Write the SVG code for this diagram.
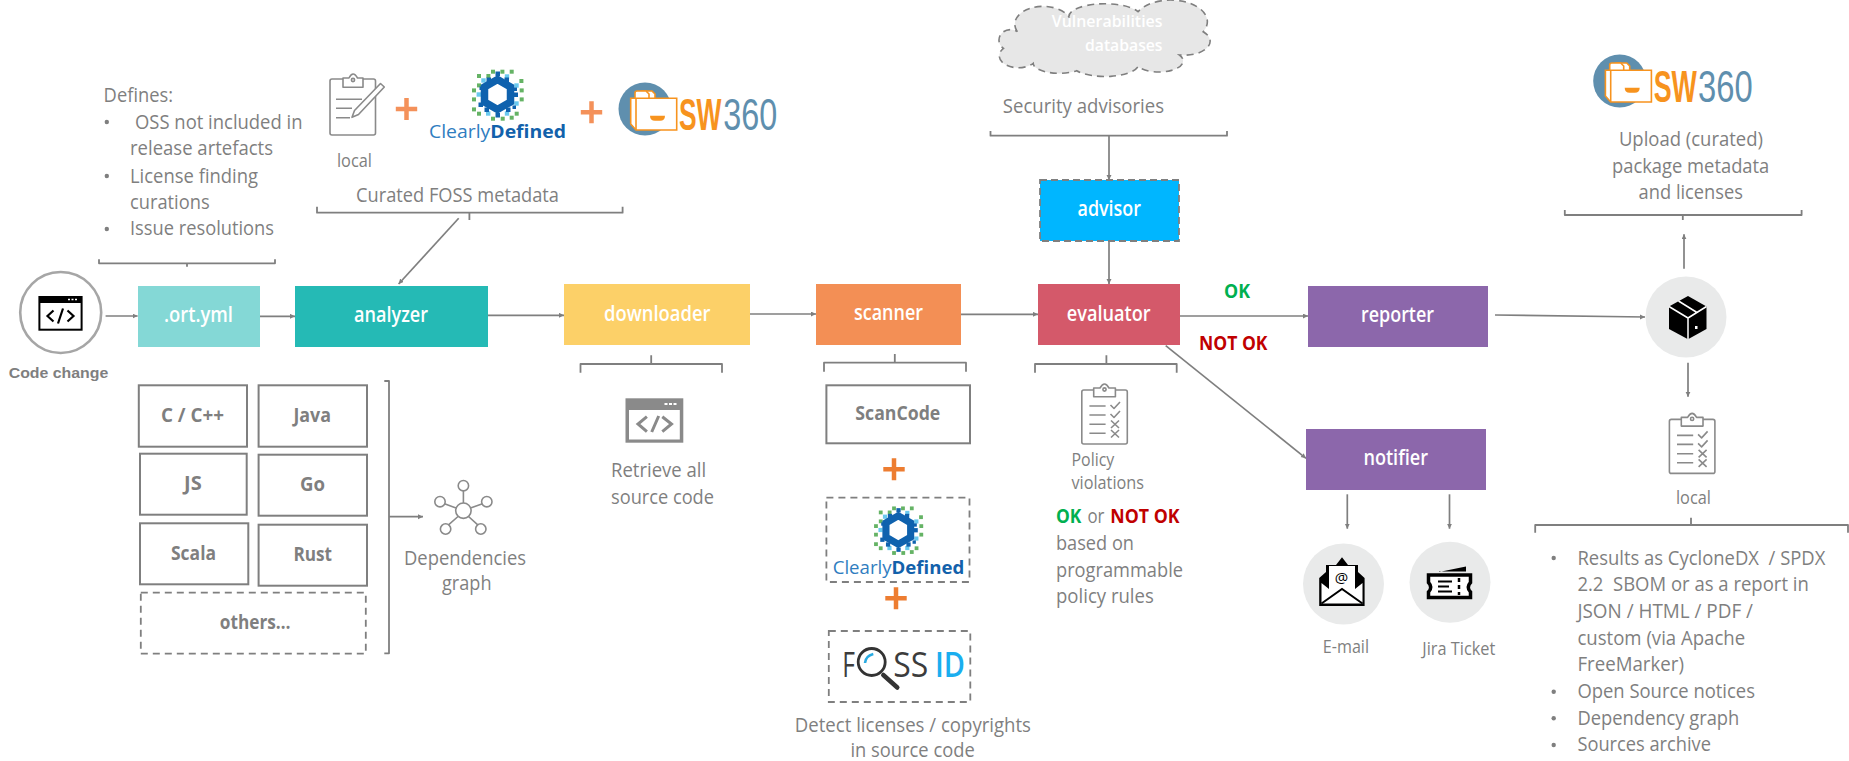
<svg xmlns="http://www.w3.org/2000/svg" width="1849" height="761" viewBox="0 0 1849 761">
<style>
text{font-family:"Open Sans","Noto Sans","Liberation Sans",sans-serif;}
.t{font-size:19.5px;fill:#7f7f7f;}
.s{font-size:17.5px;fill:#7f7f7f;}
.n{font-size:21.5px;font-weight:600;fill:#fff;}
.l{font-size:19.5px;font-weight:700;fill:#7f7f7f;}
.ok{font-size:19.5px;font-weight:700;fill:#00b050;}
.nok{font-size:19.5px;font-weight:700;fill:#c00000;}
.a{fill:none;stroke:#7f7f7f;stroke-width:1.7;marker-end:url(#arr);}
.b{fill:none;stroke:#7f7f7f;stroke-width:1.8;stroke-linejoin:round;}
.box{fill:#fff;stroke:#7f7f7f;stroke-width:2;}
.dash{fill:#fff;stroke:#7f7f7f;stroke-width:1.8;stroke-dasharray:7 5;}
.plus{stroke-width:4.5;fill:none;}
.ico{fill:none;stroke:#8a8a8a;stroke-width:1.6;stroke-linejoin:round;}
.circ{fill:#e9eaea;}
.cg{fill:#65b365;}.clb{fill:#6ac9ee;}.cdb{fill:#0f62ae;}
.clearly{font-size:17.5px;fill:#2f7dbf;}
.defined{font-size:17.5px;font-weight:700;fill:#1261ab;}
.sw{font-family:"Liberation Sans",sans-serif;font-size:44px;font-weight:700;fill:#f7931e;}
.n360{font-family:"Liberation Sans",sans-serif;font-size:44px;font-weight:400;fill:#5f8fae;}
.foss{font-size:34px;fill:#3c3c3c;}
.dot{fill:#7f7f7f;}
</style>
<defs>
<marker id="arr" markerUnits="userSpaceOnUse" markerWidth="6" markerHeight="6" refX="5" refY="2.5" orient="auto"><path d="M0 0L5 2.500L0 5Z" fill="#7f7f7f"/></marker>
<g id="cd-mark">
<g class="cg">
<rect x="-20.5" y="-20.5" width="4" height="4"/><rect x="-6.5" y="-24.8" width="4" height="4"/><rect x="2.9" y="-24.8" width="4" height="4"/><rect x="12.2" y="-24.8" width="4" height="4"/><rect x="21.9" y="-15.5" width="4" height="4"/><rect x="22.2" y="-6.1" width="4" height="4"/><rect x="22.2" y="2.9" width="4" height="4"/><rect x="17.2" y="17.2" width="4" height="4"/><rect x="3.2" y="22.2" width="4" height="4"/><rect x="-6.5" y="22.2" width="4" height="4"/><rect x="-20.5" y="17.2" width="4" height="4"/><rect x="-25.5" y="12.9" width="4" height="4"/><rect x="-25.5" y="2.9" width="4" height="4"/><rect x="-25.5" y="-6.1" width="4" height="4"/><rect x="-20.5" y="-11.1" width="4" height="4"/><rect x="-11.1" y="-20.5" width="4" height="4"/><rect x="12.2" y="21.2" width="4" height="4"/>
</g>
<g class="clb">
<rect x="-16.2" y="-16.2" width="4.4" height="4.4"/><rect x="7.3" y="-20.2" width="4.4" height="4.4"/><rect x="16.8" y="-11.2" width="4.4" height="4.4"/><rect x="-20.9" y="-2.2" width="4.4" height="4.4"/><rect x="-11.5" y="16.8" width="4.4" height="4.4"/><rect x="7.3" y="16.8" width="4.4" height="4.4"/><rect x="16.8" y="6.8" width="4.4" height="4.4"/>
</g>
<path d="M0-15L13-7.500V7.500L0 15L-13 7.500V-7.500Z" fill="#fff" stroke="#0f62ae" stroke-width="7.5"/>
<g class="cdb">
<rect x="-2" y="-23" width="4.5" height="4.5"/><rect x="-2" y="18.500" width="4.5" height="4.5"/><rect x="-13" y="13" width="4.5" height="4.5"/><rect x="8.500" y="13" width="4.5" height="4.5"/><rect x="-11" y="-17" width="4.5" height="4.5"/><rect x="7" y="-17" width="4.5" height="4.5"/><rect x="16" y="-2" width="4.5" height="4.5"/><rect x="-19" y="8" width="4.5" height="4.5"/><rect x="16" y="-7" width="3.5" height="3.5"/><rect x="-18" y="-8" width="3.5" height="3.5"/><rect x="15" y="11" width="3.5" height="3.5"/>
</g>
</g>
<g id="sw-mark">
<circle cx="645" cy="109" r="26.5" fill="#5f8fae"/>
<path d="M640 98V93Q640 91 642 91H652L655 94V98" fill="#fff" stroke="#f7931e" stroke-width="1.6"/>
<path d="M635 98V93Q635 91 637 91H646L649 94V98" fill="#fff" stroke="#f7931e" stroke-width="1.6"/>
<path d="M630.7 98.3V124L636 130H676.7V98.3Z" fill="#fff" stroke="#f7931e" stroke-width="1.6"/>
<path d="M636 98.3V130" fill="none" stroke="#f7931e" stroke-width="1.6"/>
<path d="M650 115.7H665Q665 120.7 660 120.7H655Q650 120.7 650 115.7Z" fill="#f7931e"/>
</g>
<g id="policy-icon" class="ico">
<rect x="1081.8" y="390" width="45.5" height="54" rx="2"/>
<path d="M1093.7 396.7V388H1100Q1104.5 380 1109 388H1115.4V396.7Z" fill="#fff"/>
<circle cx="1104.5" cy="389.5" r="1.6"/>
<path d="M1089.4 406H1105.6M1089.4 415H1105.6M1089.4 424.3H1105.6M1089.4 433.3H1105.6"/>
<path d="M1110.5 405L1114 408.5L1120 402M1110.5 414L1114 417.5L1120 411M1111 420.5L1119 428M1119 420.5L1111 428M1111 430L1119 437.5M1119 430L1111 437.5"/>
</g>
</defs>

<g id="connectors">
<path class="a" d="M105.6 316H137.6"/>
<path class="a" d="M260 316.3H295"/>
<path class="a" d="M488 315.3H564"/>
<path class="a" d="M750 314H816"/>
<path class="a" d="M961 314.3H1038"/>
<path class="a" d="M1109 135.7V180"/>
<path class="a" d="M1109 241V284"/>
<path class="a" d="M1180 316H1308"/>
<path class="a" d="M1165.7 345.7L1306 458.3"/>
<path class="a" d="M1495 315L1645 317"/>
<path class="a" d="M1684 268.7V234.3"/>
<path class="a" d="M1688 362.7V396.7"/>
<path class="a" d="M1347.3 494.3V528.7"/>
<path class="a" d="M1449.5 494.3V528.7"/>
<path class="a" d="M458.7 218.3L398.6 284"/>
<path class="a" d="M389 516.7H423"/>
</g>

<g id="brackets">
<path class="b" d="M99 259.3V263.3H275V259.3M187 263.3V266.7"/>
<path class="b" d="M317 206.7V212.7H622.6V206.7M469.4 212.7V220"/>
<path class="b" d="M990.5 131V135.7H1227V131"/>
<path class="b" d="M580.5 372.7V364H722V372.7M651.2 364V355.3"/>
<path class="b" d="M824 371.7V362.7H966V371.7M894.8 362.7V354"/>
<path class="b" d="M1035 372.7V364H1176.7V372.7M1106.4 364V355.3"/>
<path class="b" d="M1564.8 210V215H1801.6V210M1682.8 215V220"/>
<path class="b" d="M1535.2 532.7V525H1848V532.7M1691 525V517.7"/>
<path class="b" d="M384.3 381H389V653.3H384.3"/>
</g>

<g id="code-change">
<circle cx="60.7" cy="312.5" r="40.5" fill="#fff" stroke="#a6a6a6" stroke-width="2.6"/>
<rect x="38.4" y="296" width="44.2" height="34.7" fill="#000"/>
<rect x="40.4" y="303" width="40.2" height="25.7" fill="#fff"/>
<path d="M68 299.5H70M71.5 299.5H73.5M75 299.5H77" stroke="#fff" stroke-width="1.6" fill="none"/>
<path d="M53.5 310.5L47.5 316L53.5 321.5M67.5 310.5L73.5 316L67.5 321.5M63 308.5L58 323.5" fill="none" stroke="#000" stroke-width="2.2"/>
<text x="8.7" y="377.7" textLength="99.6" lengthAdjust="spacingAndGlyphs" style="font-family:'Liberation Sans',sans-serif;font-size:15px;font-weight:700;fill:#7f7f7f">Code change</text>
</g>

<g id="defines">
<text class="t" x="103.6" y="102" textLength="69.4" lengthAdjust="spacingAndGlyphs">Defines:</text>
<circle class="dot" cx="106.8" cy="122" r="2.2"/>
<text class="t" x="135" y="129.3" textLength="167.5" lengthAdjust="spacingAndGlyphs">OSS not included in</text>
<text class="t" x="130" y="155.3" textLength="143" lengthAdjust="spacingAndGlyphs">release artefacts</text>
<circle class="dot" cx="106.8" cy="176" r="2.2"/>
<text class="t" x="130" y="182.7" textLength="128" lengthAdjust="spacingAndGlyphs">License finding</text>
<text class="t" x="130" y="209.3" textLength="79.6" lengthAdjust="spacingAndGlyphs">curations</text>
<circle class="dot" cx="106.8" cy="229" r="2.2"/>
<text class="t" x="130" y="235.3" textLength="144" lengthAdjust="spacingAndGlyphs">Issue resolutions</text>
</g>

<g id="ort-yml"><rect x="138" y="286" width="122" height="61" fill="#84d8d6"/><text class="n" x="164" y="321.7" textLength="69" lengthAdjust="spacingAndGlyphs">.ort.yml</text></g>
<g id="analyzer"><rect x="295" y="286" width="193" height="61" fill="#25bab5"/><text class="n" x="354" y="321.7" textLength="74" lengthAdjust="spacingAndGlyphs">analyzer</text></g>
<g id="downloader"><rect x="564" y="284" width="186" height="61" fill="#fcd068"/><text class="n" x="604" y="321" textLength="106.5" lengthAdjust="spacingAndGlyphs">downloader</text></g>
<g id="scanner"><rect x="816" y="284" width="145" height="61" fill="#f38f55"/><text class="n" x="854" y="320" textLength="69" lengthAdjust="spacingAndGlyphs">scanner</text></g>
<g id="evaluator"><rect x="1038" y="284" width="142" height="61" fill="#d4596a"/><text class="n" x="1066.8" y="321" textLength="83.8" lengthAdjust="spacingAndGlyphs">evaluator</text></g>
<g id="advisor"><rect x="1040" y="180" width="139" height="61" fill="#00b6ff" stroke="#7f7f7f" stroke-width="1.8" stroke-dasharray="7 4"/><text class="n" x="1077.5" y="216" textLength="63.5" lengthAdjust="spacingAndGlyphs">advisor</text></g>
<g id="reporter"><rect x="1308" y="286" width="180" height="61" fill="#8c67ab"/><text class="n" x="1361" y="321.7" textLength="73" lengthAdjust="spacingAndGlyphs">reporter</text></g>
<g id="notifier"><rect x="1306" y="429" width="180" height="61" fill="#8c67ab"/><text class="n" x="1363.4" y="465" textLength="64.6" lengthAdjust="spacingAndGlyphs">notifier</text></g>

<g id="curated-sources">
<g id="local-clipboard" class="ico">
<rect x="330" y="79" width="45.5" height="56" rx="2"/>
<path d="M343 87.3V78H349Q353 70 357.5 78H363V87.3Z" fill="#fff"/>
<circle cx="353" cy="80" r="1.6"/>
<path d="M336 99.3H362M336 108.3H352M336 117.7H350"/>
<path d="M380.5 83.5L384.3 87L358.5 114.5L352 117.3L354.5 110.5Z" fill="#fff"/>
</g>
<text class="s" x="337" y="166.7" textLength="35" lengthAdjust="spacingAndGlyphs">local</text>
<path class="plus" d="M406.5 98V120M395.8 109H417.2" stroke="#f4915a"/>
<use href="#cd-mark" transform="translate(497.5,94.5)"/>
<text x="429" y="138.3" textLength="137" lengthAdjust="spacingAndGlyphs"><tspan class="clearly">Clearly</tspan><tspan class="defined">Defined</tspan></text>
<path class="plus" d="M591.5 101.3V123.3M580.8 112.3H602.2" stroke="#f4915a"/>
<use href="#sw-mark"/>
<text class="sw" transform="matrix(.6 0 0 1 679 130)">SW</text>
<text class="n360" transform="matrix(.735 0 0 1 723.3 130)">360</text>
<text class="t" x="356" y="201.7" textLength="203" lengthAdjust="spacingAndGlyphs">Curated FOSS metadata</text>
</g>

<g id="languages">
<g id="lang-c"><rect class="box" x="138.8" y="385.3" width="108.2" height="61.4"/><text class="l" x="161" y="421.7" textLength="63" lengthAdjust="spacingAndGlyphs">C / C++</text></g>
<g id="lang-java"><rect class="box" x="258.6" y="385.3" width="108.4" height="61.4"/><text class="l" x="293.4" y="421.7" textLength="37.6" lengthAdjust="spacingAndGlyphs">Java</text></g>
<g id="lang-js"><rect class="box" x="140" y="453.7" width="106.7" height="61"/><text class="l" x="184" y="490" textLength="17.7" lengthAdjust="spacingAndGlyphs">JS</text></g>
<g id="lang-go"><rect class="box" x="258.6" y="454.7" width="108.4" height="61"/><text class="l" x="300" y="491" textLength="25" lengthAdjust="spacingAndGlyphs">Go</text></g>
<g id="lang-scala"><rect class="box" x="140" y="523.3" width="108.3" height="61"/><text class="l" x="171" y="560" textLength="45" lengthAdjust="spacingAndGlyphs">Scala</text></g>
<g id="lang-rust"><rect class="box" x="258.6" y="524.7" width="108.4" height="61"/><text class="l" x="293.4" y="561.3" textLength="38.6" lengthAdjust="spacingAndGlyphs">Rust</text></g>
<g id="lang-others"><rect class="dash" x="140.8" y="592.7" width="225" height="61"/><text class="l" x="219.8" y="629" textLength="70.8" lengthAdjust="spacingAndGlyphs">others…</text></g>
</g>

<g id="dependencies-graph">
<g class="ico">
<path d="M463.4 490.7V503M482.5 503.7L470.5 508M444.5 503.7L456 508M448.5 524.8L458 516.5M477.8 524.8L468.5 516.5"/>
<circle cx="463.4" cy="510.7" r="7.7"/><circle cx="463.4" cy="485.7" r="5.2"/><circle cx="486.8" cy="501.7" r="5.2"/><circle cx="440" cy="501.7" r="5.2"/><circle cx="445.6" cy="529" r="5.2"/><circle cx="480.8" cy="529" r="5.2"/>
</g>
<text class="t" x="404" y="565" textLength="122" lengthAdjust="spacingAndGlyphs">Dependencies</text>
<text class="t" x="442" y="590" textLength="49.5" lengthAdjust="spacingAndGlyphs">graph</text>
</g>

<g id="retrieve">
<rect x="625.5" y="398.3" width="57.8" height="44.4" fill="#8a8a8a"/>
<rect x="629" y="410" width="50.8" height="29.5" fill="#fff"/>
<path d="M664.5 404H667.5M669 404H672M673.5 404H676.5" stroke="#fff" stroke-width="1.8" fill="none"/>
<path d="M646.9 416.7L638 424L646.9 431.7M662.3 416.7L671.5 424L662.3 431.7M658.7 416L651.7 432" fill="none" stroke="#8a8a8a" stroke-width="3"/>
<text class="t" x="611" y="477.3" textLength="95.2" lengthAdjust="spacingAndGlyphs">Retrieve all</text>
<text class="t" x="611" y="504" textLength="103" lengthAdjust="spacingAndGlyphs">source code</text>
</g>

<g id="scanners">
<g id="scancode"><rect class="box" x="826.4" y="385.3" width="143.6" height="58"/><text class="l" x="855.3" y="420" textLength="85" lengthAdjust="spacingAndGlyphs">ScanCode</text></g>
<path class="plus" d="M894 458.3V480.3M883.3 469.3H904.7" stroke="#ed7d31"/>
<g id="clearlydefined"><rect class="dash" x="826.4" y="497.7" width="143.1" height="84.3"/>
<use href="#cd-mark" transform="translate(898.3,530) scale(.95)"/>
<text x="832.7" y="574.3" textLength="131.6" lengthAdjust="spacingAndGlyphs"><tspan class="clearly">Clearly</tspan><tspan class="defined">Defined</tspan></text></g>
<path class="plus" d="M896 587.3V609.3M885.3 598.3H906.7" stroke="#ed7d31"/>
<g id="fossid"><rect class="dash" x="828.8" y="631" width="141.5" height="71"/>
<text class="foss" x="842.3" y="676.7" textLength="12.7" lengthAdjust="spacingAndGlyphs">F</text>
<circle cx="871.7" cy="662" r="13.5" fill="none" stroke="#333" stroke-width="2.8"/>
<path d="M865 663Q865.5 656 873.3 654" fill="none" stroke="#29abe2" stroke-width="2.6"/>
<path d="M883.3 675L897.3 687.5" stroke="#333" stroke-width="4.5" stroke-linecap="round"/>
<text class="foss" x="893.3" y="676.7" textLength="35" lengthAdjust="spacingAndGlyphs">SS</text>
<text class="foss" x="935" y="676.7" textLength="30" lengthAdjust="spacingAndGlyphs" style="font-weight:600;fill:#1aaeef">ID</text></g>
<text class="t" x="794.8" y="731.7" textLength="236.2" lengthAdjust="spacingAndGlyphs">Detect licenses / copyrights</text>
<text class="t" x="850.5" y="757" textLength="124.2" lengthAdjust="spacingAndGlyphs">in source code</text>
</g>

<g id="vulnerabilities-cloud">
<path d="M1017.4 31.7A27 17 0 0 1 1068.8 16.7A36 13 0 0 1 1138 11.7A34 20 0 0 1 1203.2 31.7A26 14 0 0 1 1179.5 55A24 11 0 0 1 1138 66.7A34 13 0 0 1 1076.7 70.7A26 10 0 0 1 1033.2 63.3A16 10 0 0 1 1003.5 48.3A11 10 0 0 1 1017.4 31.7Z" fill="#e7e7e7" stroke="#7f7f7f" stroke-width="1.6" stroke-dasharray="7 5"/>
<text x="1051.8" y="26.7" textLength="110.7" lengthAdjust="spacingAndGlyphs" style="font-size:17px;font-weight:600;fill:#fff">Vulnerabilities</text>
<text x="1085" y="51" textLength="77.5" lengthAdjust="spacingAndGlyphs" style="font-size:17px;font-weight:600;fill:#fff">databases</text>
</g>
<text class="t" x="1002.8" y="113.3" textLength="161.2" lengthAdjust="spacingAndGlyphs">Security advisories</text>

<g id="policy">
<use href="#policy-icon"/>
<text class="s" x="1071.5" y="465.7" textLength="42.8" lengthAdjust="spacingAndGlyphs">Policy</text>
<text class="s" x="1071.5" y="489.3" textLength="72.5" lengthAdjust="spacingAndGlyphs">violations</text>
<text class="ok" x="1056" y="522.7" textLength="25.4" lengthAdjust="spacingAndGlyphs">OK</text>
<text class="t" x="1087.4" y="522.7" textLength="17" lengthAdjust="spacingAndGlyphs">or</text>
<text class="nok" x="1110.3" y="522.7" textLength="69.2" lengthAdjust="spacingAndGlyphs">NOT OK</text>
<text class="t" x="1056" y="550" textLength="78" lengthAdjust="spacingAndGlyphs">based on</text>
<text class="t" x="1056" y="576.7" textLength="127" lengthAdjust="spacingAndGlyphs">programmable</text>
<text class="t" x="1056" y="603" textLength="97.8" lengthAdjust="spacingAndGlyphs">policy rules</text>
</g>

<text class="ok" x="1224" y="297.7" textLength="26" lengthAdjust="spacingAndGlyphs">OK</text>
<text class="nok" x="1199" y="350" textLength="68.5" lengthAdjust="spacingAndGlyphs">NOT OK</text>

<g id="package">
<circle class="circ" cx="1686" cy="317" r="40.5"/>
<path d="M1688 296L1706.5 306.5V329L1688 339.3L1669 329V306.5Z" fill="#000"/>
<path d="M1669 306.5L1688 318L1706.5 306.5M1688 318V339.3M1678.5 301L1697 312.5" fill="none" stroke="#fff" stroke-width="1.5"/>
<rect x="1695" y="326" width="2.5" height="3" fill="#fff"/>
</g>

<g id="email">
<circle class="circ" cx="1343.5" cy="584" r="40.5"/>
<path d="M1319.2 578L1326 572V565H1336L1342 557.3L1348 565H1358V572L1364.6 578V606H1319.2Z" fill="#000"/>
<path d="M1329 566H1355V592H1329Z" fill="#fff"/>
<path d="M1321.5 583L1329 589H1355L1362.5 583V603.5H1321.5Z" fill="#fff"/>
<path d="M1321.5 603.5L1342 589L1362.5 603.5" fill="none" stroke="#000" stroke-width="2"/>
<text x="1341.5" y="583" text-anchor="middle" style="font-size:15px;fill:#000">@</text>
<text class="s" x="1322.8" y="653.3" textLength="46.2" lengthAdjust="spacingAndGlyphs">E-mail</text>
</g>

<g id="jira">
<circle class="circ" cx="1450" cy="582.3" r="40.5"/>
<path d="M1439 572L1466 566.5V571.5H1439Z" fill="#000"/>
<path d="M1428.5 575H1470.5V582.5Q1466 587.5 1470.5 592V597.5H1428.5V592Q1433 587.5 1428.5 582.5Z" fill="#fff" stroke="#000" stroke-width="3.5"/>
<path d="M1438 581.5H1452M1438 586.5H1449M1438 591.5H1452" stroke="#000" stroke-width="2" fill="none"/>
<path d="M1459 578V595" stroke="#000" stroke-width="2.5" stroke-dasharray="4 3" fill="none"/>
<text class="s" x="1422.3" y="655" textLength="73" lengthAdjust="spacingAndGlyphs">Jira Ticket</text>
</g>

<g id="sw360-upload">
<use href="#sw-mark" transform="translate(974.7,-28)"/>
<text class="sw" transform="matrix(.61 0 0 1 1653.7 102)">SW</text>
<text class="n360" transform="matrix(.745 0 0 1 1698 102)">360</text>
<text class="t" x="1618.9" y="146" textLength="144.1" lengthAdjust="spacingAndGlyphs">Upload (curated)</text>
<text class="t" x="1612" y="172.7" textLength="157.3" lengthAdjust="spacingAndGlyphs">package metadata</text>
<text class="t" x="1638.6" y="199.3" textLength="104.4" lengthAdjust="spacingAndGlyphs">and licenses</text>
</g>

<g id="local-report">
<use href="#policy-icon" transform="translate(587.6,29.4)"/>
<text class="s" x="1676" y="504" textLength="35" lengthAdjust="spacingAndGlyphs">local</text>
<circle class="dot" cx="1553.7" cy="558" r="2.2"/>
<text class="t" x="1577.4" y="565" textLength="248" lengthAdjust="spacingAndGlyphs" xml:space="preserve">Results as CycloneDX  / SPDX</text>
<text class="t" x="1577.4" y="591.3" textLength="231.4" lengthAdjust="spacingAndGlyphs" xml:space="preserve">2.2  SBOM or as a report in</text>
<text class="t" x="1577.4" y="618.3" textLength="175.6" lengthAdjust="spacingAndGlyphs">JSON / HTML / PDF /</text>
<text class="t" x="1577.4" y="645" textLength="167.8" lengthAdjust="spacingAndGlyphs">custom (via Apache</text>
<text class="t" x="1577.4" y="671" textLength="106.6" lengthAdjust="spacingAndGlyphs">FreeMarker)</text>
<circle class="dot" cx="1553.7" cy="691.7" r="2.2"/>
<text class="t" x="1577.4" y="698.3" textLength="177.6" lengthAdjust="spacingAndGlyphs">Open Source notices</text>
<circle class="dot" cx="1553.7" cy="718.3" r="2.2"/>
<text class="t" x="1577.4" y="725" textLength="161.9" lengthAdjust="spacingAndGlyphs">Dependency graph</text>
<circle class="dot" cx="1553.7" cy="745" r="2.2"/>
<text class="t" x="1577.4" y="751" textLength="133.6" lengthAdjust="spacingAndGlyphs">Sources archive</text>
</g>
</svg>
